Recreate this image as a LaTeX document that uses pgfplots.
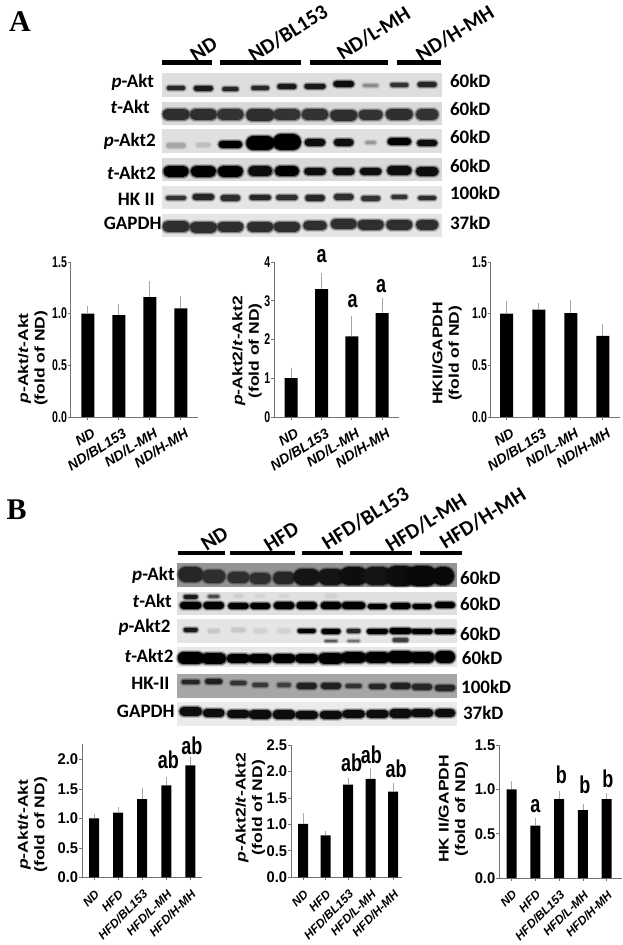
\documentclass[border=0pt]{standalone}
\usepackage{fontspec}
\usepackage{pgfplots}
\pgfplotsset{compat=1.18}
\setmainfont{Liberation Sans}
\newfontfamily\blotfont{Carlito}
\newfontfamily\panelfont{Liberation Serif}

% one soft blot band: x, y, half length, thickness, darkness
\newcommand{\band}[5]{%
  \addplot[black!#5,opacity=0.2,line width=#4pt+4pt,line cap=round,forget plot] coordinates {(#1-#3,#2)(#1+#3,#2)};
  \addplot[black!#5,opacity=0.4,line width=#4pt+2pt,line cap=round,forget plot] coordinates {(#1-#3,#2)(#1+#3,#2)};
  \addplot[black!#5,line width=#4pt,line cap=round,forget plot] coordinates {(#1-#3,#2)(#1+#3,#2)};
}
% blot background: x1, x2, top, bottom, grey
\newcommand{\blot}[5]{\addplot[draw=none,fill=black!#5,forget plot] coordinates {(#1,#3)(#2,#3)(#2,#4)(#1,#4)} -- cycle;}
% group header line
\newcommand{\head}[3]{\addplot[black,line width=4.7pt,forget plot] coordinates {(#1,#3)(#2,#3)};}
\newcommand{\grp}[3]{\node[rotate=32,font=\blotfont\fontsize{21}{21}\selectfont\bfseries] at (axis cs:#1,#2) {#3};}
\newcommand{\lft}[3]{\node[anchor=east,inner sep=0pt,font=\blotfont\fontsize{19}{20}\selectfont\bfseries] at (axis cs:#1,#2) {#3};}
\newcommand{\kd}[3]{\node[anchor=west,inner sep=0pt,font=\blotfont\fontsize{19}{20}\selectfont\bfseries] at (axis cs:#1,#2) {#3};}
\newcommand{\sig}[3]{\node[inner sep=0pt,yscale=1.35,font=\fontsize{18}{18}\selectfont\bfseries] at (axis cs:#1,#2) {#3};}

\pgfplotsset{
  barpanel/.style={
    scale only axis, ybar, bar shift=0pt, ymin=0, clip=false,
    axis lines=left,
    axis line style={-,black!55,line width=0.9pt},
    tick align=outside, tick pos=left,
    tick style={black!55,line width=0.7pt},
    major tick length=3pt,
    xtick=data,
    /pgf/number format/assume math mode=true,
    /pgf/number format/fixed, /pgf/number format/fixed zerofill,
    /pgf/number format/precision=1,
    ylabel style={anchor=center,align=center,xscale=1.25,font=\fontsize{14}{16.5}\selectfont\bfseries},
  },
  panelA/.style={barpanel,bar width=13pt,
    x tick label style={rotate=32,anchor=north east,inner sep=1pt,yshift=-7pt,
      font=\fontsize{14}{14}\selectfont\itshape\bfseries},
    y tick label style={font=\fontsize{15.5}{16}\selectfont\bfseries,xscale=0.68,inner sep=1pt},
    xticklabels={ND,ND/BL153,ND/L-MH,ND/H-MH}},
  panelB/.style={barpanel,bar width=10pt,
    x tick label style={rotate=45,anchor=north east,inner sep=1pt,xshift=-5pt,yshift=-5pt,
      font=\fontsize{12}{12}\selectfont\itshape\bfseries},
    y tick label style={font=\fontsize{15.5}{16}\selectfont\bfseries,xscale=0.95,inner sep=1pt},
    xticklabels={ND,HFD,HFD/BL153,HFD/L-MH,HFD/H-MH}},
  errs/.style={fill=black,draw=none,
    error bars/.cd,y dir=plus,y explicit,
    error bar style={black!35,line width=0.7pt},error mark=none},
}

\begin{document}
\begin{tikzpicture}
\useasboundingbox (0,0) rectangle (623pt,945pt);

% blots, group lines and their labels, in picture pixels
\begin{axis}[at={(0,0)},anchor=south west,scale only axis,width=623pt,height=945pt,
  xmin=0,xmax=623,ymin=0,ymax=945,y dir=reverse,hide axis,clip=false]

\node[inner sep=0pt,font=\panelfont\fontsize{30}{30}\selectfont\bfseries] at (axis cs:20,21.7) {A};
\node[inner sep=0pt,font=\panelfont\fontsize{30}{30}\selectfont\bfseries] at (axis cs:16.7,510) {B};

% panel A
\head{161.7}{211.8}{62.3} \head{220}{301}{62.3} \head{310}{387.8}{62.3} \head{396.5}{441}{62.3}
\grp{203.8}{49.3}{ND} \grp{288}{33.3}{ND/BL153} \grp{373.5}{33.3}{ND/L-MH} \grp{455}{33.3}{ND/H-MH}

\blot{162}{442}{73.3}{96.7}{13}
\band{176}{88.3}{7}{4}{85} \band{203.4}{88}{7}{5}{90} \band{230.4}{89.3}{6}{4}{85}
\band{260.2}{88}{7}{3.5}{85} \band{286.9}{86.7}{7}{5}{90} \band{315}{86}{8}{5}{90}
\band{343.7}{84}{7}{6.5}{95} \band{370.7}{85.3}{6}{3.5}{45} \band{399.3}{84.7}{7}{4}{80} \band{427.1}{84.7}{7}{5}{85}

\blot{162}{442}{101.7}{125}{15}
\band{176}{114.3}{8}{11}{82} \band{203.4}{114.5}{8}{11}{82} \band{230.4}{114.5}{8}{10.5}{80}
\band{260.2}{115}{8}{12}{82} \band{286.9}{114.5}{8}{11}{80} \band{315}{114.5}{8}{10.5}{80}
\band{343.7}{115}{8}{11}{82} \band{370.7}{114.5}{7}{10}{80} \band{399.3}{114}{8}{11}{82} \band{427.1}{114.5}{6}{10.5}{80}

\blot{162}{442}{129.3}{152.7}{12}
\band{176}{145.7}{7}{5}{35} \band{203.4}{145}{5}{4}{25} \band{230.4}{144.3}{8}{7.5}{100}
\band{260.2}{143.3}{7}{14}{100} \band{286.9}{142.3}{6}{16}{100} \band{315}{142.3}{7}{6.5}{95}
\band{343.7}{142.3}{6}{7.5}{95} \band{370.7}{142.7}{4}{2.5}{40} \band{399.3}{141.7}{8}{7.5}{100} \band{427.1}{143.3}{7}{6}{95}

\blot{162}{442}{157.7}{181}{15}
\band{176}{171.3}{7}{11}{100} \band{203.4}{171.3}{7}{11}{100} \band{230.4}{171.3}{7}{11}{100}
\band{260.2}{171.3}{7}{10}{95} \band{286.9}{171.3}{7}{10}{100} \band{315}{171.3}{7}{7.5}{95}
\band{343.7}{171.3}{7}{7.5}{95} \band{370.7}{171.3}{7}{7.5}{95} \band{399.3}{170.5}{8}{8.5}{95} \band{427.1}{171.3}{7}{8.5}{95}

\blot{162}{442}{186}{209.3}{10}
\band{176}{198}{8}{4}{80} \band{203.4}{197}{8}{5.5}{85} \band{230.4}{198}{7}{5.5}{82}
\band{260.2}{197.5}{8}{5.5}{85} \band{286.9}{197.5}{8}{5.5}{82} \band{315}{198}{7}{5.5}{85}
\band{343.7}{197}{7}{5.5}{82} \band{370.7}{198}{7}{5}{80} \band{399.3}{197}{6}{4}{80} \band{427.1}{198}{7}{4}{82}

\blot{162}{442}{214}{237.3}{10}
\band{176}{226.5}{8}{11}{82} \band{203.4}{227.3}{8}{11}{82} \band{230.4}{226.5}{8}{10}{82}
\band{260.2}{226.5}{8}{10}{82} \band{286.9}{226.5}{8}{10}{82} \band{315}{225.7}{7}{9.5}{82}
\band{343.7}{224}{8}{10}{82} \band{370.7}{224.5}{8}{10}{82} \band{399.3}{224.5}{8}{10}{82} \band{427.1}{224.5}{6}{10}{82}

\lft{154.2}{82.7}{\textit{p}-Akt} \lft{150}{106.7}{\textit{t}-Akt} \lft{156}{141.7}{\textit{p}-Akt2}
\lft{156}{173.3}{\textit{t}-Akt2} \lft{155}{199.3}{HK II} \lft{161.7}{223.3}{GAPDH}
\kd{449.8}{81}{60kD} \kd{449.8}{109}{60kD} \kd{449.8}{136.7}{60kD}
\kd{449.8}{166}{60kD} \kd{449.8}{192.7}{100kD} \kd{449.8}{222.7}{37kD}

% panel B
\head{177.6}{224.5}{553} \head{230}{295.2}{553} \head{302.3}{342.5}{553} \head{350}{412.4}{553} \head{419.6}{461.7}{553}
\grp{214.5}{539}{ND} \grp{281.3}{536.7}{HFD} \grp{365.5}{518.3}{HFD/BL153} \grp{426}{522.3}{HFD/L-MH} \grp{482.7}{518.3}{HFD/H-MH}

\blot{176.8}{457}{563.3}{587.3}{42}
\band{190.7}{574.5}{5}{15}{85} \band{213.7}{576}{5}{13}{82} \band{238.4}{577.5}{5}{11.5}{82}
\band{260.2}{578}{5}{11}{82} \band{284}{578}{5}{11.5}{85} \band{306.7}{576.5}{5}{16}{92}
\band{331}{576.5}{5}{16}{92} \band{353.6}{576}{5}{18}{95} \band{377.4}{576}{5}{18}{92}
\band{400.5}{576}{5}{20}{95} \band{422}{576}{5}{20}{97} \band{443}{576}{2}{18}{97}

\blot{176.8}{457}{591.7}{615}{12}
\band{190.7}{596.5}{5}{4}{90} \band{213.7}{596.5}{4}{3.5}{70} \band{238.4}{596}{3}{2.5}{20}
\band{260.2}{596}{3}{2.5}{18} \band{284}{596}{3}{2.5}{18} \band{331}{596}{4}{3.5}{18}
\band{190.7}{605.3}{7}{7.5}{100} \band{213.7}{605.3}{7}{6.5}{100} \band{238.4}{606}{7}{6.5}{100}
\band{260.2}{605.7}{7}{6}{100} \band{284}{605.7}{7}{6.5}{100} \band{306.7}{605.7}{7}{6.5}{100}
\band{331}{605.7}{7}{6.5}{100} \band{353.6}{605.7}{8}{7.5}{100} \band{377.4}{606}{7}{5}{100}
\band{400.5}{605.7}{7}{6}{100} \band{422}{606}{7}{5}{100} \band{445}{605.3}{7}{6}{100}

\blot{176.8}{457}{619.3}{642.7}{10}
\band{190.7}{629.5}{5}{4}{90} \band{213.7}{631}{4}{3.5}{22} \band{238.4}{629.5}{5}{4}{22}
\band{260.2}{631}{5}{3.5}{18} \band{284}{631}{5}{3.5}{18} \band{306.7}{630.5}{7}{4}{100}
\band{331}{631}{7}{5}{100} \band{353.6}{631}{5}{3.5}{85} \band{377.4}{631}{8}{5}{100}
\band{400.5}{630.5}{8}{6}{100} \band{422}{631}{8}{5}{100} \band{445}{631}{8}{5}{100}
\band{331}{641}{5}{2.5}{65} \band{353.6}{641}{5}{2}{55} \band{400.5}{640}{6}{3.5}{75}

\blot{176.8}{457}{646.7}{666.7}{9}
\band{190.7}{658}{7}{12}{100} \band{213.7}{658.5}{7}{11}{100} \band{238.4}{658.5}{7}{9}{100}
\band{260.2}{658.5}{7}{9}{100} \band{284}{658.5}{7}{9}{100} \band{306.7}{658}{7}{9}{100}
\band{331}{658}{7}{11}{100} \band{353.6}{657.5}{7}{11}{100} \band{377.4}{657.5}{7}{11}{100}
\band{400.5}{657}{7}{12}{100} \band{422}{657}{7}{11}{100} \band{445}{657}{4}{12}{100}

\blot{176.8}{457}{674.3}{697.7}{35}
\band{190.7}{682}{7}{4}{85} \band{213.7}{681.5}{6}{5}{88} \band{238.4}{683}{6}{4}{80}
\band{260.2}{685}{6}{3.5}{78} \band{284}{685}{5}{3.5}{75} \band{306.7}{686}{7}{6}{88}
\band{331}{685.5}{7}{6}{88} \band{353.6}{686}{6}{4}{80} \band{377.4}{686}{6}{5}{85}
\band{400.5}{686}{7}{6}{88} \band{422}{687}{7}{6}{85} \band{445}{687.5}{7}{6}{85}

\blot{176.8}{457}{702.3}{725.7}{8}
\band{190.7}{711.5}{7}{8.5}{95} \band{213.7}{713}{7}{7.5}{95} \band{238.4}{714}{7}{8.5}{95}
\band{260.2}{714.5}{7}{8.5}{95} \band{284}{714.5}{7}{8.5}{95} \band{306.7}{715}{7}{8.5}{95}
\band{331}{715}{7}{8.5}{95} \band{353.6}{714}{7}{8.5}{95} \band{377.4}{714}{7}{8.5}{95}
\band{400.5}{713.5}{7}{8.5}{95} \band{422}{713}{7}{8.5}{95} \band{445}{713}{6}{8.5}{95}

\lft{174.8}{575}{\textit{p}-Akt} \lft{172}{601}{\textit{t}-Akt} \lft{170.8}{627.3}{\textit{p}-Akt2}
\lft{173.6}{656}{\textit{t}-Akt2} \lft{169.6}{683.3}{HK-II} \lft{174.8}{711.7}{GAPDH}
\kd{460}{578}{60kD} \kd{460}{604}{60kD} \kd{460}{633.7}{60kD}
\kd{461.7}{658.3}{60kD} \kd{461}{687.3}{100kD} \kd{462.9}{713.3}{37kD}
\end{axis}

% A: p-Akt/t-Akt
\begin{axis}[panelA,at={(70.7pt,528pt)},anchor=south west,width=126.8pt,height=155pt,
  xmin=-0.55,xmax=3.54,ymax=1.5,ytick={0,0.5,1,1.5},
  ylabel={\textit{p}-Akt/\textit{t}-Akt\\(fold of ND)},
  ylabel style={at={(axis description cs:-0.30,0.379)}}]
\addplot[errs] coordinates {(0,1.0) +- (0,0.07) (1,0.985) +- (0,0.105) (2,1.16) +- (0,0.16) (3,1.05) +- (0,0.12)};
\end{axis}

% A: p-Akt2/t-Akt2
\begin{axis}[panelA,at={(274pt,528pt)},anchor=south west,width=124.5pt,height=155pt,
  xmin=-0.567,xmax=3.54,ymax=4,ytick={0,1,2,3,4},
  /pgf/number format/precision=0,
  ylabel={\textit{p}-Akt2/\textit{t}-Akt2\\(fold of ND)},
  ylabel style={at={(axis description cs:-0.217,0.426)}}]
\addplot[errs] coordinates {(0,1.0) +- (0,0.27) (1,3.3) +- (0,0.42) (2,2.08) +- (0,0.52) (3,2.68) +- (0,0.4)};
\sig{1}{4.15}{a} \sig{2.03}{2.98}{a} \sig{2.97}{3.38}{a}
\end{axis}

% A: HKII/GAPDH
\begin{axis}[panelA,at={(490.7pt,528pt)},anchor=south west,width=129.1pt,height=155pt,
  xmin=-0.5,xmax=3.53,ymax=1.5,ytick={0,0.5,1,1.5},
  ylabel={HKII/GAPDH\\(fold of ND)},
  ylabel style={at={(axis description cs:-0.338,0.411)}}]
\addplot[errs] coordinates {(0,1.0) +- (0,0.12) (1,1.04) +- (0,0.06) (2,1.005) +- (0,0.125) (3,0.785) +- (0,0.115)};
\end{axis}

% B: p-Akt/t-Akt
\begin{axis}[panelB,at={(82.2pt,67.7pt)},anchor=south west,width=119.6pt,height=133pt,
  xmin=-0.5,xmax=4.48,ymax=2.26,ytick={0,0.5,1,1.5,2},
  ylabel={\textit{p}-Akt/\textit{t}-Akt\\(fold of ND)},
  ylabel style={at={(axis description cs:-0.416,0.395)}}]
\addplot[errs] coordinates {(0,1.0) +- (0,0.07) (1,1.1) +- (0,0.09) (2,1.33) +- (0,0.19) (3,1.56) +- (0,0.14) (4,1.9) +- (0,0.15)};
\sig{3.09}{1.99}{ab} \sig{4.07}{2.24}{ab}
\end{axis}

% B: p-Akt2/t-Akt2
\begin{axis}[panelB,at={(291.2pt,67.7pt)},anchor=south west,width=110.8pt,height=132.3pt,
  xmin=-0.53,xmax=4.4,ymax=2.5,ytick={0,0.5,1,1.5,2,2.5},
  ylabel={\textit{p}-Akt2/\textit{t}-Akt2\\(fold of ND)},
  ylabel style={at={(axis description cs:-0.369,0.527)}}]
\addplot[errs] coordinates {(0,1.01) +- (0,0.21) (1,0.79) +- (0,0.09) (2,1.75) +- (0,0.12) (3,1.86) +- (0,0.2) (4,1.62) +- (0,0.16)};
\sig{2.16}{2.17}{ab} \sig{3.04}{2.31}{ab} \sig{4.14}{2.05}{ab}
\end{axis}

% B: HK II/GAPDH
\begin{axis}[panelB,at={(499.4pt,67pt)},anchor=south west,width=122.4pt,height=133pt,
  xmin=-0.52,xmax=4.64,ymax=1.5,ytick={0,0.5,1,1.5},
  ylabel={HK II/GAPDH\\(fold of ND)},
  ylabel style={at={(axis description cs:-0.377,0.52)}}]
\addplot[errs] coordinates {(0,1.0) +- (0,0.09) (1,0.59) +- (0,0.09) (2,0.89) +- (0,0.09) (3,0.765) +- (0,0.075) (4,0.89) +- (0,0.07)};
\sig{1}{0.81}{a} \sig{2.09}{1.16}{b} \sig{3.08}{1.05}{b} \sig{4.05}{1.12}{b}
\end{axis}
\end{tikzpicture}
\end{document}
